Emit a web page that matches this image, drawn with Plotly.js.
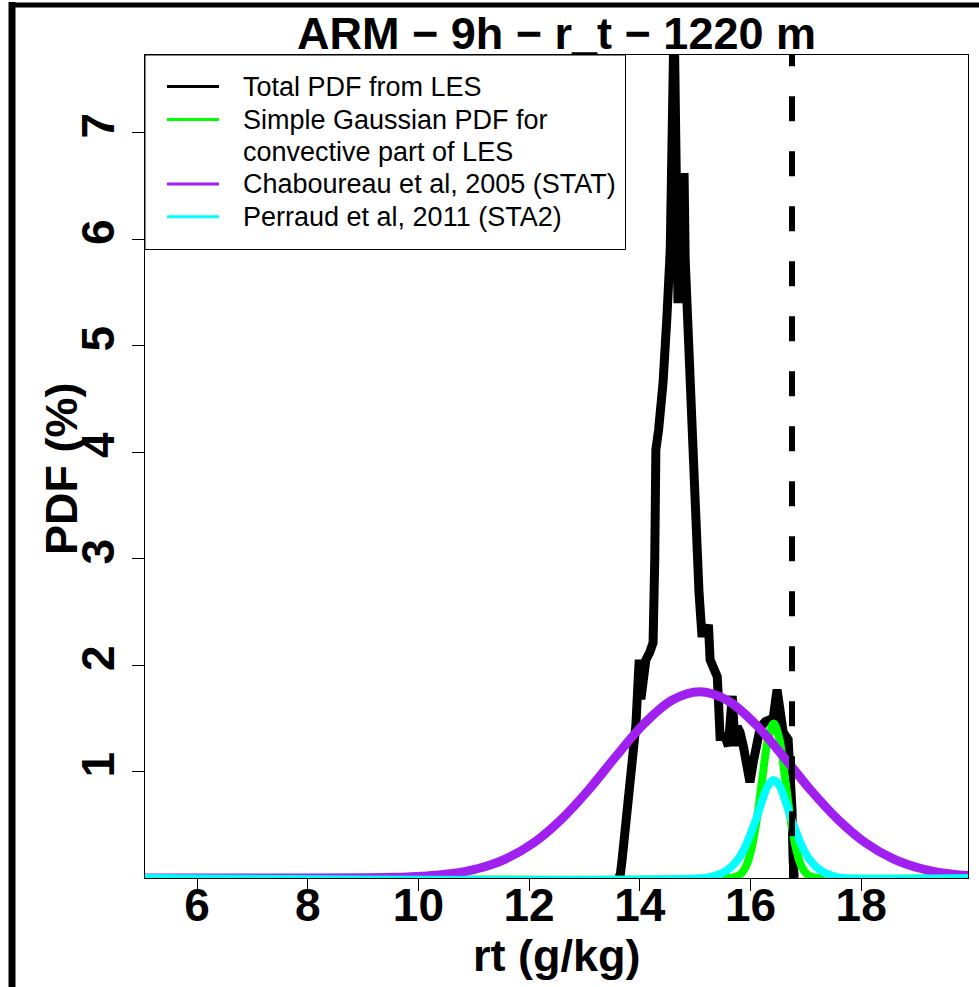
<!DOCTYPE html>
<html>
<head>
<meta charset="utf-8">
<script src="https://cdn.plot.ly/plotly-3.0.1.min.js"></script>
<style>html,body{margin:0;padding:0;background:#fff;}#chart{width:979px;height:987px;}</style>
</head>
<body>
<div id="chart"></div>
<script>
// ---- data ----
const chartTitle = 'ARM \u2212 9h \u2212 r_t \u2212 1220 m';
const xTitle = 'rt (g/kg)';
const yTitle = 'PDF (%)';
const xTickVals = [6, 8, 10, 12, 14, 16, 18];
const yTickVals = [1, 2, 3, 4, 5, 6, 7];
const xRange = [5.06, 19.93];
const yRange = [0, 7.73];

const legendLabels = ['Total PDF from LES', 'Simple Gaussian PDF for', 'convective part of LES',
                      'Chaboureau et al, 2005 (STAT)', 'Perraud et al, 2011 (STA2)'];

// Total PDF from LES (black)
const lesX = [13.6, 13.645, 13.68, 13.75, 13.81, 13.84, 13.88, 13.93, 13.97, 13.99, 14.02, 14.06, 14.11,
  14.18, 14.24, 14.27, 14.29, 14.34, 14.42, 14.49, 14.55, 14.62, 14.69, 14.75, 14.80, 14.82, 14.87, 14.93,
  14.98, 15.02, 15.07, 15.12, 15.20, 15.24, 15.27, 15.34, 15.40, 15.42, 15.45, 15.54, 15.60, 15.67, 15.72,
  15.76, 15.81, 15.87, 15.94, 15.99, 16.05, 16.12, 16.18, 16.27, 16.36, 16.41, 16.48, 16.54, 16.59, 16.68,
  16.72, 16.75, 16.77, 16.79];
const lesY = [0, 0.02, 0.17, 0.55, 0.83, 1.02, 1.11, 1.44, 1.86, 2.05, 1.68, 1.86, 2.05,
  2.12, 2.21, 2.99, 4.02, 4.21, 4.65, 5.27, 5.90, 8.1, 5.40, 6.0, 6.62, 5.81, 5.27, 4.65,
  4.02, 3.30, 2.68, 2.30, 2.30, 2.38, 2.05, 1.98, 1.89, 1.68, 1.33, 1.33, 1.24, 1.71, 1.24,
  1.42, 1.37, 1.24, 0.99, 0.90, 1.09, 1.24, 1.42, 1.47, 1.49, 1.50, 1.77, 1.61, 1.37, 1.30,
  1.02, 0.64, 0.17, 0];

// Simple Gaussian PDF for convective part (green)
const gaussX = [5.0, 15.62, 15.72, 15.82, 15.92, 16.02, 16.12, 16.22, 16.32, 16.42, 16.52, 16.62, 16.72,
  16.82, 16.92, 17.02, 17.12, 17.22, 20.0];
const gaussY = [0, 0, 0.01, 0.035, 0.11, 0.28, 0.57, 0.96, 1.31, 1.45, 1.31, 0.96, 0.57,
  0.28, 0.11, 0.035, 0.01, 0, 0];

// Chaboureau et al, 2005 (purple)
const statX = [5.0, 8.08, 9.08, 9.58, 10.08, 10.58, 11.08, 11.58, 12.08, 12.58, 13.08, 13.58, 14.08, 14.58,
  15.08, 15.58, 16.08, 16.58, 17.08, 17.58, 18.08, 18.58, 19.08, 19.58, 20.08];
const statY = [0, 0, 0.002, 0.006, 0.017, 0.04, 0.089, 0.18, 0.33, 0.55, 0.83, 1.15, 1.45, 1.67,
  1.75, 1.67, 1.45, 1.15, 0.83, 0.55, 0.33, 0.18, 0.089, 0.04, 0.017];

// Perraud et al, 2011 (cyan)
const sta2X = [5.0, 15.17, 15.32, 15.47, 15.62, 15.72, 15.82, 15.92, 16.02, 16.12, 16.22, 16.32, 16.42,
  16.52, 16.62, 16.72, 16.82, 16.92, 17.02, 17.12, 17.22, 17.37, 17.52, 17.67, 20.0];
const sta2Y = [0, 0, 0.015, 0.04, 0.09, 0.14, 0.21, 0.31, 0.44, 0.58, 0.74, 0.87, 0.92,
  0.87, 0.74, 0.58, 0.44, 0.31, 0.21, 0.14, 0.09, 0.04, 0.015, 0, 0];

// vertical dashed reference line
const vlineX = 16.75;
const vlineY = [7.86, 0];

// ---- styles ----
const colors = {les: '#000000', gauss: '#00ff00', stat: '#a020f0', sta2: '#00ffff'};
const FONT = 'Liberation Sans, Arial, Helvetica, sans-serif';

const traces = [
  {x: lesX, y: lesY, mode: 'lines', line: {color: colors.les, width: 9}, showlegend: false},
  {x: gaussX, y: gaussY, mode: 'lines', line: {color: colors.gauss, width: 8, shape: 'spline', smoothing: 1}, showlegend: false},
  {x: statX, y: statY, mode: 'lines', line: {color: colors.stat, width: 9, shape: 'spline', smoothing: 1}, showlegend: false},
  {x: sta2X, y: sta2Y, mode: 'lines', line: {color: colors.sta2, width: 8, shape: 'spline', smoothing: 1}, showlegend: false},
  {x: [vlineX, vlineX], y: vlineY, mode: 'lines', line: {color: '#000', width: 6, dash: '25px,30px'}, showlegend: false}
];

// plot area in pixels (for paper conversions)
const L = 145, T = 55, W = 823, H = 823;
const px = v => (v - L) / W;
const py = v => (T + H - v) / H;

const legendColors = [colors.les, colors.gauss, null, colors.stat, colors.sta2];
const legendRowY = [86.5, 119.5, 151.7, 184, 216.7];

const shapes = [
  // outer frame
  {type: 'line', xref: 'paper', yref: 'paper', x0: px(12), x1: px(12), y0: py(990), y1: py(2), line: {color: '#000', width: 7}},
  {type: 'line', xref: 'paper', yref: 'paper', x0: px(9), x1: px(985), y0: py(5), y1: py(5), line: {color: '#000', width: 5}},
  // legend box
  {type: 'rect', xref: 'paper', yref: 'paper', x0: px(145), x1: px(625.5), y0: py(249.5), y1: 1,
   line: {color: '#000', width: 1}, fillcolor: 'rgba(255,255,255,1)', layer: 'above'}
];
const annotations = [];
legendLabels.forEach((lab, i) => {
  if (legendColors[i]) {
    shapes.push({type: 'line', xref: 'paper', yref: 'paper', x0: px(167), x1: px(219),
      y0: py(legendRowY[i]), y1: py(legendRowY[i]), line: {color: legendColors[i], width: 3}, layer: 'above'});
  }
  annotations.push({xref: 'paper', yref: 'paper', x: px(241), y: py(legendRowY[i]), xanchor: 'left', yanchor: 'middle',
    text: lab, showarrow: false, font: {family: FONT, size: 27, color: '#000'}});
});
// axis titles
annotations.push({xref: 'paper', yref: 'paper', x: px(61), y: py(469), xanchor: 'center', yanchor: 'middle',
  text: yTitle, textangle: -90, showarrow: false, font: {family: FONT, size: 45, weight: 'bold', color: '#000'}});
annotations.push({xref: 'paper', yref: 'paper', x: px(556.5), y: py(955), xanchor: 'center', yanchor: 'middle',
  text: xTitle, showarrow: false, font: {family: FONT, size: 45, weight: 'bold', color: '#000'}});

const layout = {
  width: 979, height: 987,
  margin: {l: L, r: 979 - L - W, t: T, b: 987 - T - H, pad: 0},
  paper_bgcolor: '#fff', plot_bgcolor: '#fff',
  showlegend: false,
  title: {text: chartTitle, x: 0.5, xref: 'paper', xanchor: 'center', y: 1 - 33 / 987, yref: 'container', yanchor: 'middle',
          font: {family: FONT, size: 45, weight: 'bold', color: '#000'}},
  xaxis: {range: xRange, tickvals: xTickVals, ticktext: xTickVals.map(String), ticks: 'outside', ticklen: 12, tickwidth: 1,
          tickcolor: '#000', showline: true, mirror: true, linecolor: '#000', linewidth: 1, showgrid: false, zeroline: false,
          ticklabelstandoff: -25,
          tickfont: {family: FONT, size: 46, weight: 'bold', color: '#000'}},
  yaxis: {range: yRange, tickvals: yTickVals, ticktext: yTickVals.map(String), ticks: 'outside', ticklen: 12, tickwidth: 1,
          tickcolor: '#000', tickangle: -90, showline: true, mirror: true, linecolor: '#000', linewidth: 1, showgrid: false, zeroline: false,
          tickfont: {family: FONT, size: 46, weight: 'bold', color: '#000'}},
  shapes: shapes,
  annotations: annotations
};

Plotly.newPlot('chart', traces, layout, {staticPlot: true, displayModeBar: false});
</script>
</body>
</html>
